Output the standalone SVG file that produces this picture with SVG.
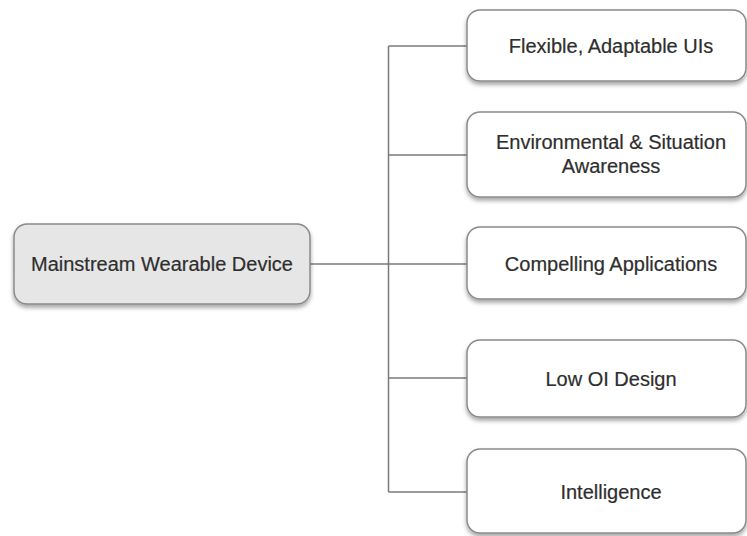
<svg xmlns="http://www.w3.org/2000/svg" width="747" height="536" viewBox="0 0 747 536">
<defs>
<filter id="sh" x="-10%" y="-20%" width="120%" height="150%">
<feDropShadow dx="0" dy="3" stdDeviation="2" flood-color="#000" flood-opacity="0.35"/>
</filter>
</defs>
<style>
.box{fill:#ffffff;stroke:#8a8a8a;stroke-width:1.5;filter:url(#sh)}
.main{fill:#e6e6e6}
.lbl{font-family:"Liberation Sans",Arial,sans-serif;font-size:20px;fill:#2e2e2e;text-anchor:middle;stroke:#2e2e2e;stroke-width:0.2}
.con{fill:none;stroke:#7a7a7a;stroke-width:1.5}
</style>
<rect width="747" height="536" fill="#ffffff"/>
<g id="connectors">
<path class="con" d="M310 264 H467"/>
<path class="con" d="M388.5 46 V492"/>
<path class="con" d="M388.5 46 H467"/>
<path class="con" d="M388.5 155 H467"/>
<path class="con" d="M388.5 378 H467"/>
<path class="con" d="M388.5 492 H467"/>
</g>
<g id="main">
<rect class="box main" x="14" y="224" width="296" height="80" rx="13"/>
<text class="lbl" x="162" y="271">Mainstream Wearable Device</text>
</g>
<g id="n1">
<rect class="box" x="467" y="10" width="279" height="71" rx="13"/>
<text class="lbl" x="611" y="53">Flexible, Adaptable UIs</text>
</g>
<g id="n2">
<rect class="box" x="467" y="112" width="279" height="85" rx="13"/>
<text class="lbl" x="611" y="149">Environmental &amp; Situation</text>
<text class="lbl" x="611" y="173">Awareness</text>
</g>
<g id="n3">
<rect class="box" x="467" y="227" width="279" height="72" rx="13"/>
<text class="lbl" x="611" y="271">Compelling Applications</text>
</g>
<g id="n4">
<rect class="box" x="467" y="340" width="279" height="77" rx="13"/>
<text class="lbl" x="611" y="386">Low OI Design</text>
</g>
<g id="n5">
<rect class="box" x="467" y="449" width="279" height="84" rx="13"/>
<text class="lbl" x="611" y="499">Intelligence</text>
</g>
</svg>
